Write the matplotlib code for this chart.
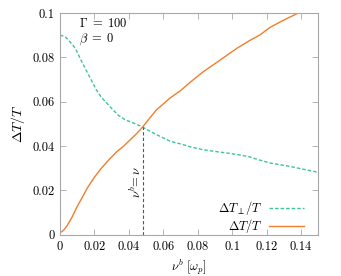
import numpy as np
import matplotlib
matplotlib.use("Agg")
import matplotlib.pyplot as plt

# ============================================================================
# Data
# ============================================================================
nu_perp = [0.0, 0.003, 0.006, 0.009, 0.012, 0.015, 0.018, 0.021, 0.024, 0.027,
           0.030, 0.034, 0.038, 0.043, 0.048, 0.052, 0.056, 0.060, 0.064,
           0.070, 0.076, 0.083, 0.090, 0.096, 0.103, 0.110, 0.116, 0.122,
           0.128, 0.134, 0.140, 0.145, 0.150]
dT_perp = [0.090, 0.0893, 0.0868, 0.0840, 0.0790, 0.0745, 0.0700, 0.0655,
           0.0620, 0.0595, 0.0570, 0.0538, 0.0518, 0.0503, 0.0486, 0.0468,
           0.0452, 0.0437, 0.0422, 0.0410, 0.0396, 0.0384, 0.0376, 0.0370,
           0.0362, 0.0352, 0.0337, 0.0324, 0.0316, 0.0308, 0.0298, 0.0290,
           0.0282]

nu_par = [0.0, 0.002, 0.004, 0.007, 0.010, 0.013, 0.016, 0.020, 0.024, 0.028,
          0.033, 0.037, 0.041, 0.045, 0.048, 0.052, 0.056, 0.060, 0.064,
          0.070, 0.076, 0.083, 0.089, 0.096, 0.103, 0.110, 0.116, 0.122,
          0.130, 0.1385, 0.145]
dT_par = [0.001, 0.002, 0.004, 0.008, 0.0128, 0.017, 0.0213, 0.026, 0.030,
          0.0335, 0.0375, 0.040, 0.043, 0.046, 0.0486, 0.0525, 0.0563, 0.059,
          0.0617, 0.065, 0.069, 0.0734, 0.0766, 0.0804, 0.0842, 0.0875,
          0.0900, 0.0935, 0.0968, 0.1000, 0.1030]

nu_cross = 0.0484

# ============================================================================
# Style
# ============================================================================
plt.rcParams["font.family"] = "serif"
plt.rcParams["font.serif"] = ["cmr10", "DejaVu Serif"]
plt.rcParams["mathtext.fontset"] = "cm"
plt.rcParams["axes.formatter.use_mathtext"] = True
plt.rcParams["font.size"] = 9

green = "#3cc49a"
orange = "#f07e2e"
gray = "#a8a8a8"

fig = plt.figure(figsize=(3.41, 2.76), dpi=100)
ax = fig.add_axes([0.176, 0.149, 0.757, 0.804])

ax.plot(nu_perp, dT_perp, color=green, lw=1.0, ls=(0, (2.5, 1.5)),
        label=r"$\Delta T_\perp/T$")
ax.plot(nu_par, dT_par, color=orange, lw=1.0, label=r"$\Delta T/T$")

ax.plot([nu_cross, nu_cross], [0, 0.0486], color="#555555", lw=0.8,
        ls=(0, (3, 2)))
ax.text(nu_cross - 0.0042, 0.024, r"$\nu^b\!=\nu$", rotation=90,
        ha="center", va="center", fontsize=9)

ax.text(0.011, 0.0915, "$\\Gamma\\;=\\;100$\n$\\beta\\;=\\;0$", fontsize=9,
        va="center", linespacing=1.1)

ax.set_xlim(0, 0.15)
ax.set_ylim(0, 0.1)
ax.set_xticks([0, 0.02, 0.04, 0.06, 0.08, 0.1, 0.12, 0.14])
ax.set_xticklabels(["0", "0.02", "0.04", "0.06", "0.08", "0.1", "0.12", "0.14"])
ax.set_yticks([0, 0.02, 0.04, 0.06, 0.08, 0.1])
ax.set_yticklabels(["0", "0.02", "0.04", "0.06", "0.08", "0.1"])

ax.tick_params(direction="in", top=True, right=True, length=4, width=0.6,
               color=gray, labelsize=9, pad=4)
for s in ax.spines.values():
    s.set_color(gray)
    s.set_linewidth(0.8)

ax.set_xlabel(r"$\nu^b\ [\omega_p]$", fontsize=9)
ax.set_ylabel(r"$\Delta T/T$", fontsize=10)

leg = ax.legend(loc="lower right", bbox_to_anchor=(0.945, 0.0),
                markerfirst=False, frameon=False, fontsize=9,
                handlelength=2.8, handletextpad=0.5, labelspacing=0.0,
                borderpad=0.0, borderaxespad=0.0)
for t in leg.get_texts():
    t.set_ha("right")

fig.savefig("out.png", dpi=100)
